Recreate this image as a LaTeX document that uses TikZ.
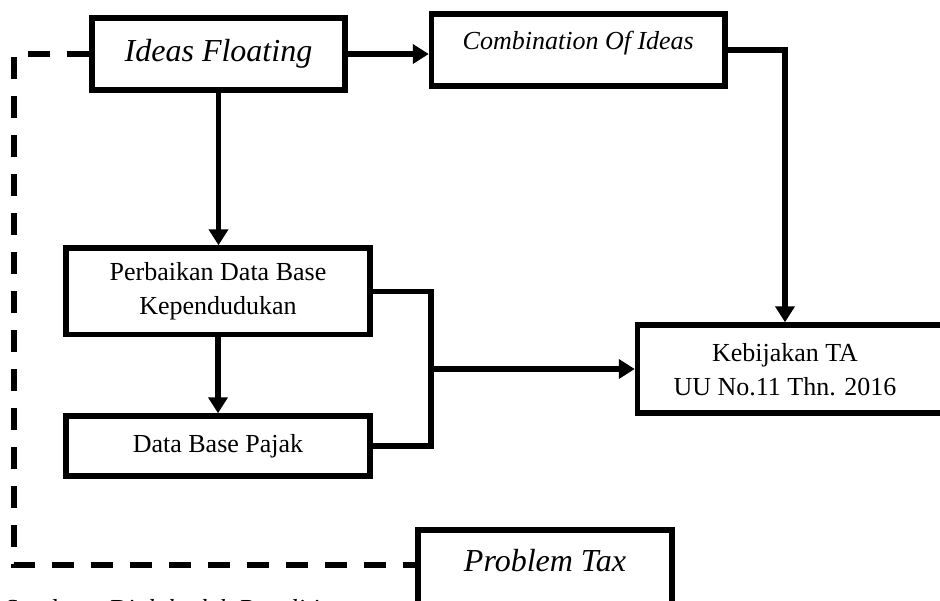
\documentclass[tikz,border=0pt]{standalone}
\usepackage{fontspec}
\setmainfont{Liberation Serif}
\usetikzlibrary{arrows.meta}

\tikzset{
  box/.style={draw, line width=5.5pt, inner sep=0pt, fill=white},
  txt/.style={font=\fontsize{26}{34}\selectfont, align=center},
  bigit/.style={font=\fontsize{32}{38}\selectfont\itshape},
  conn/.style={line width=5.5pt},
  arr/.style={conn, -{Triangle[length=16pt,width=19pt]}},
  dashline/.style={line width=5.5pt, dash pattern=on 22pt off 17pt}
}

\begin{document}
\begin{tikzpicture}[x=1pt, y=-1pt]
  \useasboundingbox (0,0) rectangle (940,600);
  \clip (0,0) rectangle (940,600);

  % boxes
  \node[box, bigit, minimum width=253pt, minimum height=72pt] (ideas) at (218.5,54) {Ideas Floating};
  \node[box, txt, minimum width=293.5pt, minimum height=72pt] (comb) at (578.25,50)
    {\raisebox{7pt}[\height][\depth]{\itshape Combination Of Ideas}};
  \node[box, txt, minimum width=304pt, minimum height=86.5pt] (perb) at (218,291.25)
    {Perbaikan Data Base\\Kependudukan};
  \node[box, txt, minimum width=304pt, minimum height=60pt] (pajak) at (218,446) {Data Base Pajak};
  \node[box, minimum width=322.5pt, minimum height=88pt] (keb) at (798.75,369) {};
  \node[txt] (kebtext) at (785,370) {Kebijakan TA\\UU No.11 Thn. 2016};
  \node[box, bigit, minimum width=254pt, minimum height=90pt] (prob) at (545,575)
    {\raisebox{14pt}[\height][\depth]{Problem Tax}};

  % caption
  \node[txt, anchor=base west, inner sep=0pt] (src) at (5,617) {Sumber : \textit{Diolah oleh Peneliti}};

  % routing points
  \coordinate (bx) at (431,0);
  \coordinate (cx) at (785,0);
  \coordinate (dl) at (14,565);

  % connectors
  \draw[arr] (ideas.east) -- (ideas.east -| comb.west);
  \draw[arr] (comb.east) -| (cx |- keb.north);
  \draw[arr] (ideas.south) -- (ideas.south |- perb.north);
  \draw[arr] (perb.south) -- (pajak.north);
  \draw[conn] (perb.east) -- (perb.east -| bx) -- (pajak.east -| bx) -- (pajak.east);
  \draw[arr] (bx |- keb.west) -- (keb.west);

  % dashed feedback line
  \draw[dashline] (ideas.west) -| (dl) -- (dl -| prob.west);
\end{tikzpicture}
\end{document}
